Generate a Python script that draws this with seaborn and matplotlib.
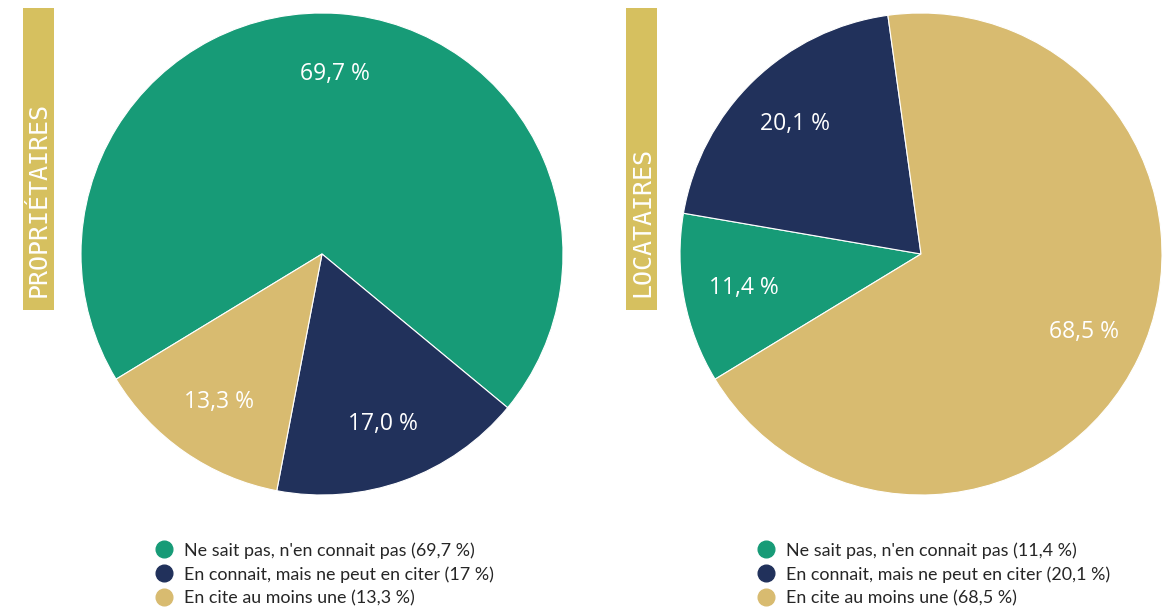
import matplotlib
matplotlib.use("Agg")
import matplotlib.pyplot as plt
from matplotlib.lines import Line2D
import seaborn as sns

# data
categories = ["Ne sait pas, n'en connait pas",
              "En connait, mais ne peut en citer",
              "En cite au moins une"]
proprietaires = [69.7, 17.0, 13.3]
locataires = [11.4, 20.1, 68.5]
legend_prop = ["69,7 %", "17 %", "13,3 %"]
legend_loc = ["11,4 %", "20,1 %", "68,5 %"]
groups = ["PROPRIÉTAIRES", "LOCATAIRES"]

sns.set_theme(style="white")
plt.rcParams['font.family'] = ['Lato', 'DejaVu Sans']
colors = sns.color_palette(["#179b77", "#21315b", "#d8bb70"])
box_color = "#d6c05f"

W, H = 1169, 609
fig = plt.figure(figsize=(W / 100, H / 100), dpi=100)


def fmt(v):
    return f"{v:.1f}".replace(".", ",") + " %"


def draw(values, cx, cy, r, leg_texts, leg_x, box_x, title):
    ax = fig.add_axes([(cx - r) / W, (H - cy - r) / H, 2 * r / W, 2 * r / H])
    wedges, texts, autotexts = ax.pie(
        values, colors=colors, startangle=211.3, counterclock=False,
        autopct=lambda p: "", pctdistance=0.75, radius=1,
        wedgeprops=dict(edgecolor="white", linewidth=0.8))
    for t, v in zip(autotexts, values):
        t.set_text(fmt(v))
        t.set_color("white")
        t.set_fontsize(16.5)
        t.set_family(['Open Sans', 'DejaVu Sans'])
    ax.set_xlim(-1, 1)
    ax.set_ylim(-1, 1)
    ax.set_aspect("equal")
    ax.axis("off")

    # vertical title box
    bx = fig.add_axes([box_x / W, (H - 310) / H, 31 / W, 302 / H])
    bx.set_facecolor(box_color)
    bx.set_xticks([])
    bx.set_yticks([])
    for s in bx.spines.values():
        s.set_visible(False)
    fig.text((box_x + 16) / W, (H - 297) / H, title, rotation=90,
             color="white", fontsize=18, family="DejaVu Sans Mono",
             ha="center", va="bottom")

    handles = [Line2D([0], [0], marker="o", linestyle="", markersize=12,
                      markerfacecolor=c, markeredgecolor=c) for c in colors]
    labels = [f"{c} ({t})" for c, t in zip(categories, leg_texts)]
    fig.legend(handles, labels, loc="upper left",
               bbox_to_anchor=(leg_x / W, 1 - 535 / H), frameon=False,
               fontsize=12.9, handletextpad=0.6, labelspacing=0.41,
               borderaxespad=0, handlelength=1.0)


draw(proprietaires, 322, 254, 241, legend_prop, 148, 23, groups[0])
draw(locataires, 921, 254, 241, legend_loc, 750, 626, groups[1])

fig.savefig("out.png", dpi=100)
